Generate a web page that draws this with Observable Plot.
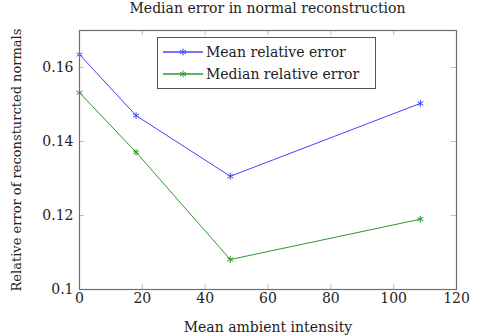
<!DOCTYPE html>
<html>
<head>
<meta charset="utf-8">
<script src="https://cdn.jsdelivr.net/npm/d3@7"></script>
<script src="https://cdn.jsdelivr.net/npm/@observablehq/plot@0.6"></script>
<style>
  body { margin: 0; background: #fff; font-family: "DejaVu Serif", serif; }
  #wrap { position: relative; width: 479px; height: 336px; }
  #title { position: absolute; left: 79px; width: 377px; top: 0px; text-align: center; font-size: 14px; color: #222; }
  #chart { position: absolute; left: 0; top: 22px; }
  #legend { position: absolute; left: 157px; top: 37px; width: 219px; height: 52px; border: 1px solid #555; background: #fff; box-sizing: border-box; font-size: 14px; color: #222; padding-top: 3px; }
  .row { display: flex; align-items: center; height: 22px; }
  .row svg { margin-left: 5px; margin-right: 3px; }
</style>
</head>
<body>
<div id="wrap">
  <div id="title"></div>
  <div id="chart"></div>
  <div id="legend"></div>
</div>
<script>
const titleText = "Median error in normal reconstruction";
const xLabel = "Mean ambient intensity";
const yLabel = "Relative error of reconsturcted normals";
const intensity = [0, 18, 48, 108.5];
const meanError = [0.1635, 0.147, 0.1306, 0.1503];
const medianError = [0.1532, 0.1371, 0.1081, 0.119];
const seriesNames = ["Mean relative error", "Median relative error"];
const seriesColors = ["#4444ff", "#2e962e"];
const xTicks = [0, 20, 40, 60, 80, 100, 120];
const yTicks = [0.1, 0.12, 0.14, 0.16];

document.getElementById("title").textContent = titleText;

const data = [
  ...intensity.map((x, i) => ({x, y: meanError[i], s: seriesNames[0]})),
  ...intensity.map((x, i) => ({x, y: medianError[i], s: seriesNames[1]}))
];

const tickColor = "#c0c0c0";
const chart = Plot.plot({
  width: 479,
  height: 314,
  marginLeft: 79,
  marginRight: 23,
  marginTop: 8,
  marginBottom: 47,
  style: {fontFamily: "'DejaVu Serif', serif", fontSize: "14px", color: "#222", background: "white"},
  x: {domain: [0, 120], ticks: xTicks, label: null},
  y: {domain: [0.1, 0.17], ticks: yTicks, label: null},
  color: {domain: seriesNames, range: seriesColors},
  marks: [
    Plot.ruleX(xTicks.slice(1, -1), {x: d => d, y1: 0.1, y2: 0.1 + 0.0014, stroke: tickColor}),
    Plot.ruleX(xTicks.slice(1, -1), {x: d => d, y1: 0.17 - 0.0014, y2: 0.17, stroke: tickColor}),
    Plot.ruleY(yTicks.slice(1), {y: d => d, x1: 0, x2: 1.6, stroke: tickColor}),
    Plot.ruleY(yTicks.slice(1), {y: d => d, x1: 120 - 1.6, x2: 120, stroke: tickColor}),
    Plot.axisX({ticks: xTicks, tickSize: 0, tickPadding: 4, tickFormat: d => String(d), fontSize: 14,
      label: xLabel, labelAnchor: "center", labelArrow: "none", labelOffset: 42}),
    Plot.axisY({ticks: yTicks, tickSize: 0, tickPadding: 6, tickFormat: d => String(d), fontSize: 14,
      label: yLabel, labelAnchor: "center", labelArrow: "none", labelOffset: 68}),
    Plot.line(data, {x: "x", y: "y", z: "s", stroke: "s", strokeWidth: 1}),
    Plot.dot(data, {x: "x", y: "y", stroke: "s", symbol: "asterisk", r: 3.2, strokeWidth: 1}),
    Plot.frame({stroke: "#6e6e6e", strokeWidth: 1.2})
  ]
});
document.getElementById("chart").appendChild(chart);
chart.querySelectorAll("[aria-label='y-axis label'] text").forEach(t => t.setAttribute("font-size", "13"));

const legend = document.getElementById("legend");
seriesNames.forEach((name, i) => {
  const row = document.createElement("div");
  row.className = "row";
  const c = seriesColors[i];
  row.innerHTML = `<svg width="40" height="12"><line x1="0" y1="6" x2="40" y2="6" stroke="${c}" stroke-width="1.5"/>` +
    `<g stroke="${c}" stroke-width="1"><line x1="20" y1="2.5" x2="20" y2="9.5"/><line x1="17" y1="4.2" x2="23" y2="7.8"/><line x1="17" y1="7.8" x2="23" y2="4.2"/></g></svg><span>${name}</span>`;
  legend.appendChild(row);
});
</script>
</body>
</html>
